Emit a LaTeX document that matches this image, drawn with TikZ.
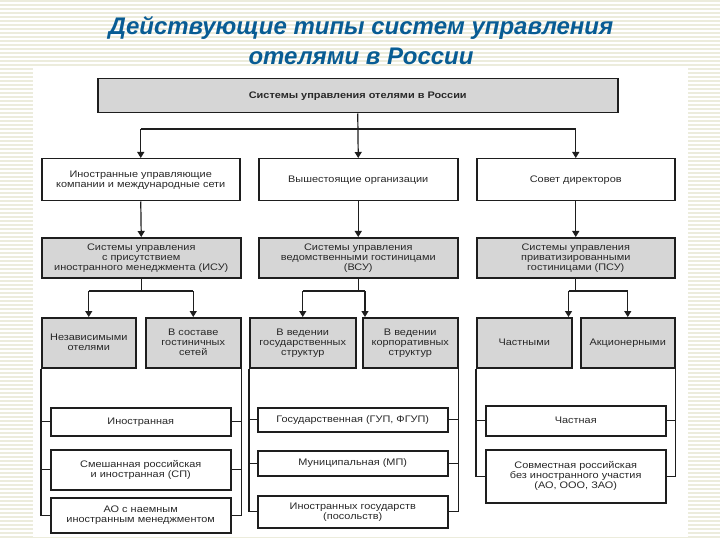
\documentclass[tikz,border=0pt]{standalone}
\usepackage{fontspec}
\setmainfont{Liberation Sans}
\newfontfamily\diagfont[FakeStretch=1.15]{Liberation Sans}
\usetikzlibrary{arrows.meta}
\definecolor{titleblue}{RGB}{8,92,148}
\definecolor{stripe}{RGB}{236,236,220}
\definecolor{boxgray}{RGB}{214,214,214}
\definecolor{ink}{RGB}{30,30,30}
\definecolor{txt}{RGB}{40,40,40}
\begin{document}
\begin{tikzpicture}[x=1pt,y=-1pt,
  box/.style={draw=ink, line width=1.5pt, fill=white, align=center, inner sep=1pt,
    anchor=north west, font=\diagfont\fontsize{9.5}{10}\selectfont, text=txt},
  graybox/.style={box, fill=boxgray},
  conn/.style={draw=ink, line width=1.2pt},
  arr/.style={conn, -{Triangle[width=7pt,length=6pt]}},
  titlestyle/.style={font=\bfseries\itshape\fontsize{24}{30}\selectfont, text=titleblue, align=center}
]
\useasboundingbox (0,0) rectangle (720,540);
% background
\fill[white] (0,0) rectangle (720,540);
\foreach \yy in {0,4,...,536} \fill[stripe] (0,\yy) rectangle (720,\yy+2);
\fill[white] (33,68) rectangle (688,537);

% title
\node[titlestyle] (title) at (361,41) {Действующие типы систем управления\\отелями в России};

% top
\node[graybox, minimum width=520pt, minimum height=34pt, font=\diagfont\bfseries\fontsize{9.5}{10}\selectfont] (top) at (97,78) {Системы управления отелями в России};

% row 2
\node[box, minimum width=198pt, minimum height=42pt] (r2l) at (41,158) {Иностранные управляющие\\компании и международные сети};
\node[box, minimum width=199pt, minimum height=42pt] (r2m) at (258,158) {Вышестоящие организации};
\node[box, minimum width=198pt, minimum height=42pt] (r2r) at (476,158) {Совет директоров};

% row 3
\node[graybox, minimum width=199pt, minimum height=40pt] (r3l) at (41,237) {Системы управления\\с присутствием\\иностранного менеджмента (ИСУ)};
\node[graybox, minimum width=199pt, minimum height=40pt] (r3m) at (258,237) {Системы управления\\ведомственными гостиницами\\(ВСУ)};
\node[graybox, minimum width=198pt, minimum height=40pt] (r3r) at (476,237) {Системы управления\\приватизированными\\гостиницами (ПСУ)};

% row 4
\node[graybox, minimum width=94pt, minimum height=50pt] (l1) at (41,317) {Независимыми\\отелями};
\node[graybox, minimum width=95pt, minimum height=50pt] (l2) at (145,317) {В составе\\гостиничных\\сетей};
\node[graybox, minimum width=106pt, minimum height=50pt] (m1) at (249,317) {В ведении\\государственных\\структур};
\node[graybox, minimum width=95pt, minimum height=50pt] (m2) at (362,317) {В ведении\\корпоративных\\структур};
\node[graybox, minimum width=95pt, minimum height=50pt] (q1) at (476,317) {Частными};
\node[graybox, minimum width=94pt, minimum height=50pt] (q2) at (580,317) {Акционерными};

% row 5+
\node[box, minimum width=180pt, minimum height=28pt] (a1) at (50,407) {Иностранная};
\node[box, minimum width=180pt, minimum height=40pt] (a2) at (50,449) {Смешанная российская\\и иностранная (СП)};
\node[box, minimum width=180pt, minimum height=35pt] (a3) at (50,497) {АО с наемным\\иностранным менеджментом};

\node[box, minimum width=190pt, minimum height=24pt] (b1) at (257,407) {Государственная (ГУП, ФГУП)};
\node[box, minimum width=190pt, minimum height=25pt] (b2) at (257,450) {Муниципальная (МП)};
\node[box, minimum width=190pt, minimum height=32pt] (b3) at (257,495) {Иностранных государств\\(посольств)};

\node[box, minimum width=180pt, minimum height=30pt] (c1) at (485,405) {Частная};
\node[box, minimum width=180pt, minimum height=53pt] (c2) at (485,449) {Совместная российская\\без иностранного участия\\(АО, ООО, ЗАО)};

% connectors top
\coordinate (h0) at (0,129);
\draw[arr] (top.south) -- (r2m.north);
\draw[conn] (r2l.north |- h0) -- (r2r.north |- h0);
\draw[arr] (r2l.north |- h0) -- (r2l.north);
\draw[arr] (r2r.north |- h0) -- (r2r.north);

% row2 -> row3
\draw[arr] (r2l.south) -- (r3l.north);
\draw[arr] (r2m.south) -- (r3m.north);
\draw[arr] (r2r.south) -- (r3r.north);

% row3 -> row4
\coordinate (h1) at (0,291);
\draw[conn] (r3l.south) -- (r3l.south |- h1);
\draw[conn] (l1.north |- h1) -- (l2.north |- h1);
\draw[arr] (l1.north |- h1) -- (l1.north);
\draw[arr] (l2.north |- h1) -- (l2.north);

\coordinate (m2a) at ([xshift=3pt]m2.north west);
\draw[conn] (r3m.south) -- (r3m.south |- h1);
\draw[conn] (m1.north |- h1) -- (m2a |- h1);
\draw[arr] (m1.north |- h1) -- (m1.north);
\draw[arr] (m2a |- h1) -- (m2a);

\coordinate (q1a) at ([xshift=-4pt]q1.north east);
\draw[conn] (r3r.south) -- (r3r.south |- h1);
\draw[conn] (q1a |- h1) -- (q2.north |- h1);
\draw[arr] (q1a |- h1) -- (q1a);
\draw[arr] (q2.north |- h1) -- (q2.north);

% brackets left column
\draw[conn] (l1.south west) -- (l1.south west |- a3.west) -- (a3.west);
\draw[conn] (l1.south west |- a1.west) -- (a1.west);
\draw[conn] (l1.south west |- a2.west) -- (a2.west);
\draw[conn] (l2.south east) -- (l2.south east |- a3.east) -- (a3.east);
\draw[conn] (l2.south east |- a1.east) -- (a1.east);
\draw[conn] (l2.south east |- a2.east) -- (a2.east);

% brackets middle column
\draw[conn] (m1.south west) -- (m1.south west |- b3.west) -- (b3.west);
\draw[conn] (m1.south west |- b1.west) -- (b1.west);
\draw[conn] (m1.south west |- b2.west) -- (b2.west);
\draw[conn] (m2.south east) -- (m2.south east |- b3.east) -- (b3.east);
\draw[conn] (m2.south east |- b1.east) -- (b1.east);
\draw[conn] (m2.south east |- b2.east) -- (b2.east);

% brackets right column
\draw[conn] (q1.south west) -- (q1.south west |- c2.west) -- (c2.west);
\draw[conn] (q1.south west |- c1.west) -- (c1.west);
\draw[conn] (q2.south east) -- (q2.south east |- c2.east) -- (c2.east);
\draw[conn] (q2.south east |- c1.east) -- (c1.east);
\end{tikzpicture}
\end{document}
